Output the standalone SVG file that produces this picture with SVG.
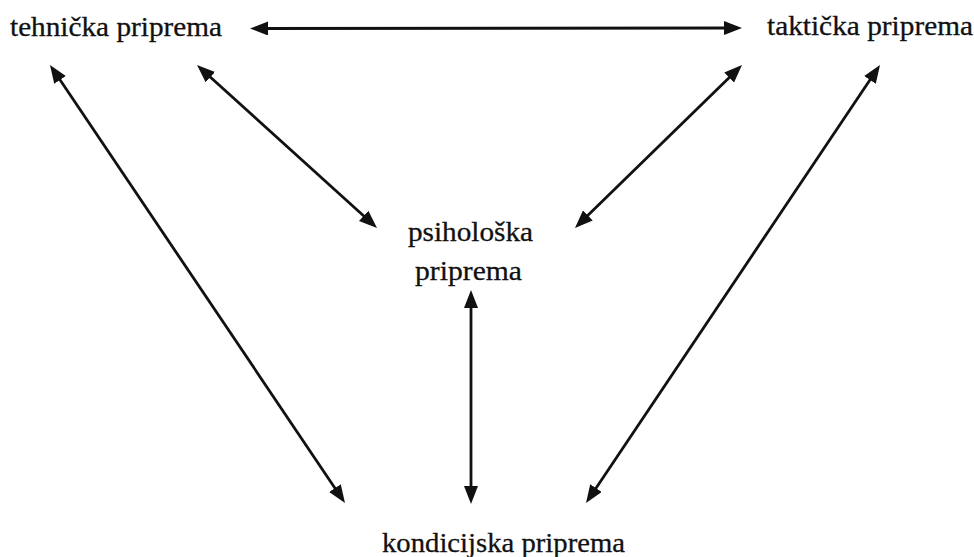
<svg xmlns="http://www.w3.org/2000/svg" width="974" height="557" viewBox="0 0 974 557">
<style>
  .lbl { font-family: "Liberation Serif", "Times New Roman", serif; font-size: 28px; fill: #111; stroke: #111; stroke-width: 0.3; }
  .conn { stroke: #111; stroke-width: 2.8; fill: none; marker-start: url(#ah); marker-end: url(#ah); }
</style>
<defs>
  <marker id="ah" markerUnits="userSpaceOnUse" markerWidth="18" markerHeight="14" refX="11" refY="7" orient="auto-start-reverse">
    <path d="M0,0 L18,7 L0,14 z" fill="#111"/>
  </marker>
</defs>
<rect width="974" height="557" fill="#fff"/>
<g id="connectors">
  <line class="conn" x1="257" y1="28.5" x2="735" y2="28"/>
  <line class="conn" x1="53.9" y1="70.8" x2="341.1" y2="497.2"/>
  <line class="conn" x1="202.2" y1="69.7" x2="371.8" y2="223.3"/>
  <line class="conn" x1="737" y1="69.9" x2="580" y2="223.1"/>
  <line class="conn" x1="876.1" y1="70.8" x2="589.9" y2="497.2"/>
  <line class="conn" x1="471" y1="297" x2="471" y2="497"/>
</g>
<g id="tehnicka">
  <text class="lbl" x="10" y="36" textLength="212" lengthAdjust="spacingAndGlyphs">tehnička priprema</text>
</g>
<g id="takticka">
  <text class="lbl" x="767" y="35" textLength="206" lengthAdjust="spacingAndGlyphs">taktička priprema</text>
</g>
<g id="psiholoska">
  <text class="lbl" x="408" y="241" textLength="125" lengthAdjust="spacingAndGlyphs">psihološka</text>
  <text class="lbl" x="415" y="280" textLength="107" lengthAdjust="spacingAndGlyphs">priprema</text>
</g>
<g id="kondicijska">
  <text class="lbl" x="382" y="552" textLength="243" lengthAdjust="spacingAndGlyphs">kondicijska priprema</text>
</g>
</svg>
